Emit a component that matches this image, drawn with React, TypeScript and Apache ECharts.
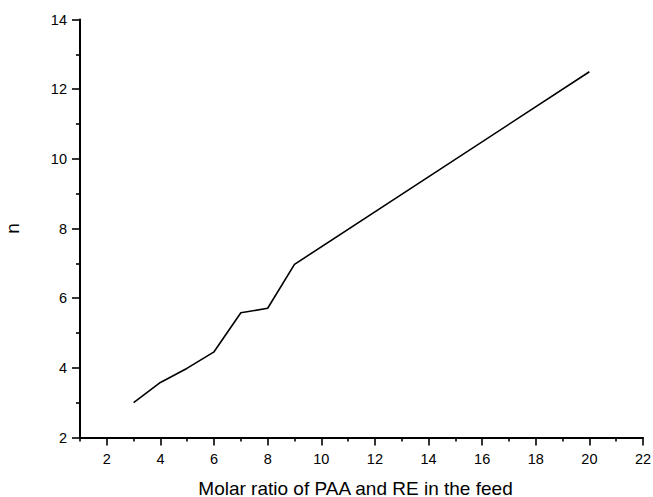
import React, { useEffect, useRef } from "react";
import * as echarts from "echarts";

const xValues = [3, 4, 5, 6, 7, 8, 9, 20];
const yValues = [3.0, 3.58, 3.99, 4.46, 5.58, 5.71, 6.97, 12.5];
const xMajorTicks = [2, 4, 6, 8, 10, 12, 14, 16, 18, 20, 22];
const xMinorTicks = [1, 3, 5, 7, 9, 11, 13, 15, 17, 19, 21];
const xAxisTitle = "Molar ratio of PAA and RE in the feed";
const yAxisTitle = "n";

export default function App() {
  const ref = useRef<HTMLDivElement>(null);
  useEffect(() => {
    if (!ref.current) return;
    const chart = echarts.init(ref.current, undefined, { renderer: "svg" });
    const font = "Liberation Sans, Arial, sans-serif";
    chart.setOption({
      animation: false,
      backgroundColor: "#ffffff",
      grid: { left: 80, right: 10, top: 19.5, bottom: 59.5, containLabel: false, outerBoundsMode: "none" },
      xAxis: [
        {
          type: "value",
          min: 1,
          max: 22,
          name: xAxisTitle,
          nameLocation: "middle",
          nameGap: 41,
          nameTextStyle: { fontFamily: font, fontSize: 19, color: "#000", padding: [0, 12, 0, 0] },
          axisLine: { show: true, onZero: false, lineStyle: { color: "#000", width: 2 } },
          axisTick: { show: true, length: 8, lineStyle: { color: "#000", width: 1.6 }, customValues: xMajorTicks },
          axisLabel: { fontFamily: font, fontSize: 14.5, color: "#000", margin: 14, customValues: xMajorTicks },
          splitLine: { show: false },
        },
        {
          type: "value",
          min: 1,
          max: 22,
          position: "bottom",
          axisLine: { show: false, onZero: false },
          axisTick: { show: true, length: 4, lineStyle: { color: "#000", width: 1.6 }, customValues: xMinorTicks },
          axisLabel: { show: false },
          splitLine: { show: false },
        },
      ],
      yAxis: {
        type: "value",
        min: 2,
        max: 14,
        interval: 2,
        name: yAxisTitle,
        nameLocation: "middle",
        nameGap: 58,
        nameTextStyle: { fontFamily: font, fontSize: 19, color: "#000" },
        axisLine: { show: true, onZero: false, lineStyle: { color: "#000", width: 2 } },
        axisTick: { show: true, length: 8, lineStyle: { color: "#000", width: 1.6 } },
        minorTick: { show: true, splitNumber: 2, length: 4, lineStyle: { color: "#000", width: 1.6 } },
        axisLabel: { fontFamily: font, fontSize: 14.5, color: "#000", margin: 13 },
        splitLine: { show: false },
        minorSplitLine: { show: false },
      },
      series: [
        {
          type: "line",
          xAxisIndex: 0,
          data: xValues.map((x, i) => [x, yValues[i]]),
          showSymbol: false,
          symbol: "none",
          lineStyle: { color: "#000", width: 1.6 },
        },
      ],
    });
    return () => chart.dispose();
  }, []);
  return <div ref={ref} style={{ width: 653, height: 497, position: "absolute", left: 0, top: 0 }} />;
}
